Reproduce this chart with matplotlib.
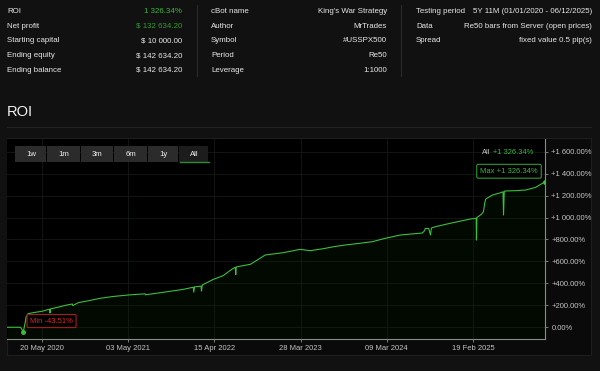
"""
ROI report of a cBot backtest: summary table on top, ROI curve below.
"""

import matplotlib
matplotlib.use("Agg")
import matplotlib.pyplot as plt
import matplotlib.dates as mdates
import matplotlib.patches as mpatches
import matplotlib.ticker as mticker
import pandas as pd

plt.rcParams["font.family"] = ["Liberation Sans", "DejaVu Sans"]

W, H, DPI = 600, 371, 100

# Colours
BG = "#111111"
PANEL = "#0a0a0a"
LINE = "#3cbf3c"
GREEN_TXT = "#3cb83c"
DARK_GREEN_TXT = "#2f9a2f"
RED = "#e02424"
RED_EDGE = "#a81c1c"
WHITE = "#e8e8e8"
GREY = "#c4c4c4"

# Summary table (three blocks of label / value)
LABELS_1 = ["ROI", "Net profit", "Starting capital", "Ending equity", "Ending balance"]
VALUES_1 = ["1 326.34%", "$ 132 634.20", "$ 10 000.00", "$ 142 634.20", "$ 142 634.20"]
LABELS_2 = ["cBot name", "Author", "Symbol", "Period", "Leverage"]
VALUES_2 = ["King's War Strategy", "MrTrades", "#USSPX500", "Re50", "1:1000"]
LABELS_3 = ["Testing period", "Data", "Spread"]
VALUES_3 = ["5Y 11M (01/01/2020 - 06/12/2025)", "Re50 bars from Server (open prices)",
            "fixed value 0.5 pip(s)"]

BUTTONS = ["1w", "1m", "3m", "6m", "1y", "All"]

# ROI curve, in %
ROI_DATES = [
    "2020-01-01", "2020-02-24", "2020-02-28", "2020-03-06", "2020-03-09", "2020-03-14",
    "2020-03-18", "2020-03-26", "2020-04-20", "2020-05-20", "2020-06-20", "2020-06-22",
    "2020-06-24", "2020-08-30", "2020-09-20", "2020-09-22", "2020-10-15", "2020-11-20",
    "2021-01-10", "2021-03-01", "2021-05-03", "2021-07-10", "2021-07-12", "2021-10-07",
    "2021-12-10", "2022-01-20", "2022-01-22", "2022-01-25", "2022-02-20", "2022-02-22",
    "2022-02-25", "2022-04-11", "2022-05-20", "2022-06-25", "2022-07-08", "2022-07-10",
    "2022-07-12", "2022-09-07", "2022-11-06", "2023-01-18", "2023-03-26", "2023-05-06",
    "2023-06-27", "2023-08-10", "2023-09-24", "2023-11-20", "2024-01-11", "2024-03-03",
    "2024-05-03", "2024-07-30", "2024-08-08", "2024-08-11", "2024-08-25", "2024-09-01",
    "2024-09-05", "2024-09-21", "2024-11-20", "2025-02-09", "2025-03-04", "2025-03-05",
    "2025-03-07", "2025-03-25", "2025-04-02", "2025-04-08", "2025-04-12", "2025-05-09",
    "2025-06-10", "2025-06-20", "2025-06-22", "2025-06-25", "2025-06-30", "2025-08-10",
    "2025-09-19", "2025-10-29", "2025-12-06",
]
ROI_VALUES = [
    0, 0, -10, -43.51, -15, 40,
    94, 124, 135, 145, 165, 130,
    167, 203, 212, 198, 225, 240,
    264, 280, 294, 305, 296, 324,
    345, 365, 320, 368, 375, 330,
    385, 437, 470, 530, 547, 480,
    550, 574, 659, 680, 710, 698,
    716, 735, 750, 765, 780, 811,
    841, 859, 880, 901, 900, 841,
    905, 917, 948, 987, 993, 795,
    1000, 1030, 1053, 1140, 1170, 1206,
    1226, 1235, 1023, 1240, 1242, 1245,
    1251, 1275, 1326.34,
]

X_TICKS = ["2020-05-20", "2021-05-03", "2022-04-15", "2023-03-28", "2024-03-09", "2025-02-19"]
Y_TICKS = [0, 200, 400, 600, 800, 1000, 1200, 1400, 1600]

FS = 5.7  # table text size


def fmt_pct(v, pos=None):
    if v == 0:
        return "0.00%"
    return ("+{:,.2f}%".format(v)).replace(",", " ")


def px(x0, y0, x1, y1):
    """Pixel box (from top-left) -> figure fraction [l, b, w, h]."""
    return [x0 / W, 1 - y1 / H, (x1 - x0) / W, (y1 - y0) / H]


fig = plt.figure(figsize=(W / DPI, H / DPI), dpi=DPI, facecolor=BG)

# Background layer in pixel coordinates
bg = fig.add_axes([0, 0, 1, 1], zorder=0)
bg.set_xlim(0, W)
bg.set_ylim(H, 0)
bg.axis("off")

rows_y = [11.5, 26, 41, 55.5, 70.5]
for lab, val, y in zip(LABELS_1, VALUES_1, rows_y):
    bg.text(7, y, lab, color=WHITE, fontsize=FS, va="center")
    c = GREEN_TXT if lab == "ROI" else DARK_GREEN_TXT if lab == "Net profit" else WHITE
    bg.text(182, y, val, color=c, fontsize=FS, va="center", ha="right")
for lab, val, y in zip(LABELS_2, VALUES_2, rows_y):
    bg.text(211, y, lab, color=WHITE, fontsize=FS, va="center")
    bg.text(387, y, val, color=WHITE, fontsize=FS, va="center", ha="right")
for lab, val, y in zip(LABELS_3, VALUES_3, rows_y):
    bg.text(416, y, lab, color=WHITE, fontsize=FS, va="center")
    bg.text(592, y, val, color=WHITE, fontsize=FS, va="center", ha="right")
for xd in (197, 401):
    bg.plot([xd, xd], [5, 76], color="#2a2a2a", lw=0.8)

bg.text(7, 112, "ROI", color="#f2f2f2", fontsize=10.5, va="center")
bg.plot([7, 591], [127, 127], color="#222222", lw=0.8)
bg.add_patch(mpatches.Rectangle((7, 138), 584, 217, facecolor=PANEL,
                                edgecolor="#1e1e1e", lw=0.8))

# ROI chart
ax = fig.add_axes(px(7, 139, 545, 339), zorder=1)
ax.set_facecolor("#000000")
dates = pd.to_datetime(ROI_DATES)
y_min, y_max = -107, 1716
ax.fill_between(dates, ROI_VALUES, y_min, color="#0a3a0a", alpha=0.16, lw=0)
ax.plot(dates, ROI_VALUES, color=LINE, lw=0.8)

i_min = ROI_VALUES.index(min(ROI_VALUES))
ax.plot([dates[i_min], dates[-1]], [ROI_VALUES[i_min], ROI_VALUES[-1]], "o",
        color=LINE, ms=2.5)

ax.set_xlim(dates[0], dates[-1])
ax.set_ylim(y_min, y_max)
ax.set_xticks(pd.to_datetime(X_TICKS))
ax.xaxis.set_major_formatter(mdates.DateFormatter("%d %b %Y"))
ax.set_yticks(Y_TICKS)
ax.yaxis.set_major_formatter(mticker.FuncFormatter(fmt_pct))
ax.yaxis.tick_right()
ax.tick_params(colors="#8a8a8a", labelcolor=GREY, labelsize=5.5, length=2.5,
               width=0.6, pad=2)
ax.grid(color="#141a14", lw=0.6)
for side in ("top", "left"):
    ax.spines[side].set_visible(False)
for side in ("right", "bottom"):
    ax.spines[side].set_color("#8a8a8a")
    ax.spines[side].set_linewidth(0.8)

ax.annotate("Min -43.51%", xy=(dates[i_min], ROI_VALUES[i_min]),
            xytext=(7, 11), textcoords="offset pixels", color=RED, fontsize=5.5,
            va="center", ha="left",
            bbox=dict(boxstyle="round,pad=0.4,rounding_size=0.15", fc="#000000",
                      ec=RED_EDGE, lw=0.8))
ax.annotate("Max +1 326.34%", xy=(dates[-1], ROI_VALUES[-1]),
            xytext=(-36, 10.5), textcoords="offset pixels", color=GREEN_TXT, fontsize=5.5,
            va="center", ha="center",
            bbox=dict(boxstyle="round,pad=0.45,rounding_size=0.2", fc="#000000",
                      ec="#2f9a2f", lw=0.8))

# Foreground layer: range buttons and legend
fg = fig.add_axes([0, 0, 1, 1], zorder=5)
fg.set_xlim(0, W)
fg.set_ylim(H, 0)
fg.axis("off")
fg.patch.set_alpha(0)

btn_x = [15, 47, 81, 114, 148, 179, 209]
for k, label in enumerate(BUTTONS):
    x0, x1 = btn_x[k], btn_x[k + 1]
    fc = "#1c1c1c" if label == "All" else "#2b2b2b"
    fg.add_patch(mpatches.Rectangle((x0, 146), x1 - x0 - 0.6, 16, facecolor=fc,
                                    edgecolor="none"))
    fg.text((x0 + x1) / 2, 154, label, color="#f0f0f0", fontsize=5.6,
            ha="center", va="center")
fg.plot([179.5, 208.5], [161.6, 161.6], color="#2e8b2e", lw=1)

fg.text(482, 152, "All", color=GREY, fontsize=5.4, va="center")
fg.text(533, 152, "+1 326.34%", color=GREEN_TXT, fontsize=5.4, va="center", ha="right")

fig.savefig("out.png", dpi=DPI, facecolor=BG)
